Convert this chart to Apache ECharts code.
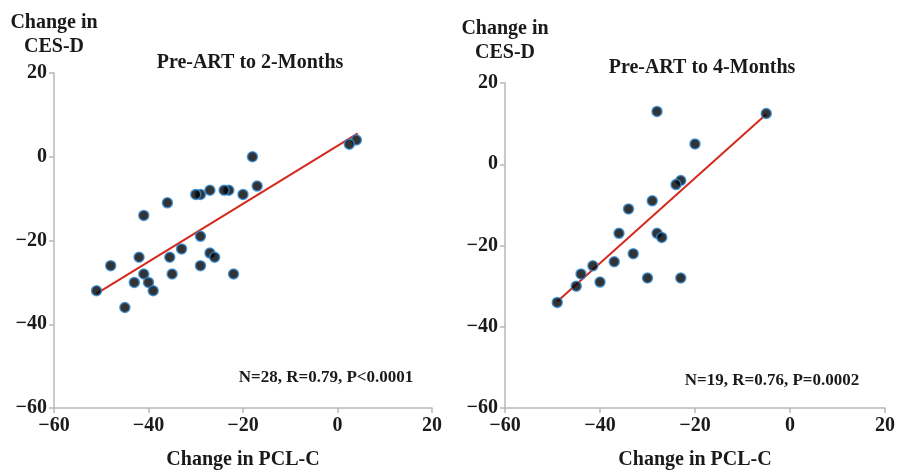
<!DOCTYPE html>
<html><head><meta charset="utf-8">
<script src="https://cdn.jsdelivr.net/npm/echarts@6/dist/echarts.min.js"></script>
<style>html,body{margin:0;padding:0;background:#fff}#c{width:898px;height:475px}</style>
</head><body><div id="c"></div>
<script>
// Left panel: Pre-ART to 2-Months
const pcl2 = [4, 2.5, -18, -17, -20, -23, -24, -27, -29, -30, -36, -41, -29,
  -51, -48, -45, -43, -42, -41, -40, -39, -35.5, -35, -33, -29, -27, -26, -22];
const ces2 = [4, 3, 0, -7, -9, -8, -8, -8, -9, -9, -11, -14, -19,
  -32, -26, -36, -30, -24, -28, -30, -32, -24, -28, -22, -26, -23, -24, -28];
const fit2X = [-51, 4.3];
const fit2Y = [-32.7, 5.6];
// Right panel: Pre-ART to 4-Months
const pcl4 = [-5, -28, -20, -23, -24, -29, -34, -36, -28, -27,
  -33, -37, -41.5, -44, -40, -45, -49, -30, -23];
const ces4 = [12.5, 13, 5, -4, -5, -9, -11, -17, -17, -18,
  -22, -24, -25, -27, -29, -30, -34, -28, -28];
const fit4X = [-49, -5];
const fit4Y = [-33.8, 12.3];
const xTicks = [-60, 20, 20]; // min, max, interval
const yTicks = [-60, 20, 20];
const titles = ['Pre-ART to 2-Months', 'Pre-ART to 4-Months'];
const notes = ['N=28, R=0.79, P<0.0001', 'N=19, R=0.76, P=0.0002'];

const FONT = '"Liberation Serif", "Times New Roman", serif';
const INK = '#1a1a1a';
const lab = {fontFamily: FONT, fontWeight: 'bold', fontSize: 20, color: INK,
  formatter: v => String(v).replace('-', '\u2212')};
const axLine = {show: true, onZero: false, lineStyle: {color: '#b8b8b8', width: 1.5}};
const axTick = {show: true, length: 5, lineStyle: {color: '#b8b8b8', width: 1.5}};

function xAxis(i) {
  return {type: 'value', gridIndex: i, min: xTicks[0], max: xTicks[1], interval: xTicks[2],
    axisLine: axLine, axisTick: axTick, splitLine: {show: false}, axisLabel: Object.assign({margin: 8}, lab),
    name: 'Change in PCL-C', nameLocation: 'middle', nameGap: 42,
    nameTextStyle: {fontFamily: FONT, fontWeight: 'bold', fontSize: 20, color: INK}};
}
function yAxis(i) {
  return {type: 'value', gridIndex: i, min: yTicks[0], max: yTicks[1], interval: yTicks[2],
    axisLine: axLine, axisTick: axTick, splitLine: {show: false}, axisLabel: Object.assign({margin: 7}, lab),
    name: 'Change in\nCES-D', nameLocation: 'end', nameGap: i === 0 ? 14 : 18,
    nameTextStyle: {fontFamily: FONT, fontWeight: 'bold', fontSize: 20, color: INK, lineHeight: 24, align: 'center'}};
}
const pt = {color: '#000', borderColor: '#2f8ad6', borderWidth: 1.5};
function zip(a, b) { return a.map((v, k) => [v, b[k]]); }

const chart = echarts.init(document.getElementById('c'));
chart.setOption({
  animation: false,
  grid: [
    {left: 54, right: 466, top: 73, bottom: 66},
    {left: 505, right: 11, top: 83, bottom: 66}
  ],
  title: [
    {text: titles[0], left: 245, top: 48, textAlign: 'center',
      textStyle: {fontFamily: FONT, fontWeight: 'bold', fontSize: 20, color: INK}},
    {text: titles[1], left: 697, top: 53, textAlign: 'center',
      textStyle: {fontFamily: FONT, fontWeight: 'bold', fontSize: 20, color: INK}}
  ],
  xAxis: [xAxis(0), xAxis(1)],
  yAxis: [yAxis(0), yAxis(1)],
  graphic: [
    {type: 'text', x: 326, y: 378, style: {text: notes[0], fontFamily: FONT, fontWeight: 'bold', fontSize: 17, fill: INK, textAlign: 'center', textVerticalAlign: 'middle'}},
    {type: 'text', x: 772, y: 381, style: {text: notes[1], fontFamily: FONT, fontWeight: 'bold', fontSize: 17, fill: INK, textAlign: 'center', textVerticalAlign: 'middle'}}
  ],
  series: [
    {type: 'line', xAxisIndex: 0, yAxisIndex: 0, data: zip(fit2X, fit2Y), symbol: 'none',
      lineStyle: {color: '#d42a1e', width: 2}, z: 2},
    {type: 'scatter', xAxisIndex: 0, yAxisIndex: 0, data: zip(pcl2, ces2), symbolSize: 10, itemStyle: pt, z: 3},
    {type: 'line', xAxisIndex: 1, yAxisIndex: 1, data: zip(fit4X, fit4Y), symbol: 'none',
      lineStyle: {color: '#d42a1e', width: 2}, z: 2},
    {type: 'scatter', xAxisIndex: 1, yAxisIndex: 1, data: zip(pcl4, ces4), symbolSize: 10, itemStyle: pt, z: 3}
  ]
});
</script></body></html>
